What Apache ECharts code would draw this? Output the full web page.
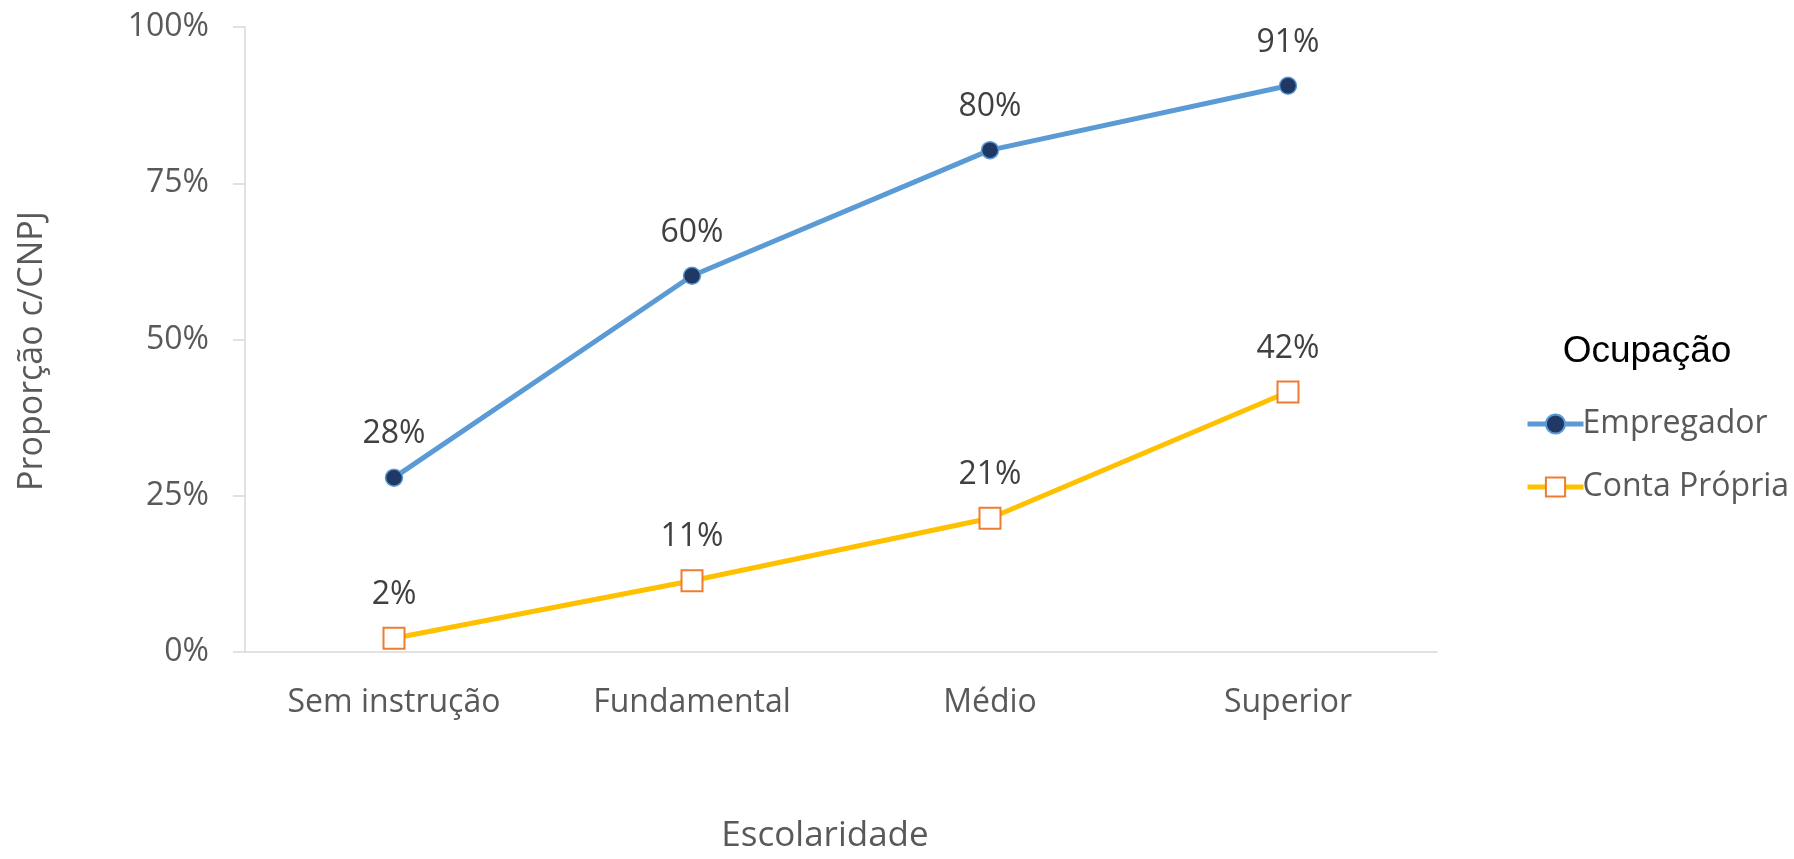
<!DOCTYPE html>
<html>
<head>
<meta charset="utf-8">
<script src="https://cdn.jsdelivr.net/npm/echarts@6/dist/echarts.min.js"></script>
<style>
html,body{margin:0;padding:0;background:#fff;}
#chart{width:1794px;height:859px;}
</style>
</head>
<body>
<div id="chart"></div>
<script>
const categories = ['Sem instrução', 'Fundamental', 'Médio', 'Superior'];
const empregador = [0.279, 0.602, 0.803, 0.906];
const contaPropria = [0.022, 0.114, 0.214, 0.416];
const yTicks = [0, 0.25, 0.5, 0.75, 1];
const seriesNames = ['Empregador', 'Conta Própria'];
const legendTitle = 'Ocupação';
const xTitle = 'Escolaridade';
const yTitle = 'Proporção c/CNPJ';

const FONT = '"Open Sans", sans-serif';
const pct = v => Math.round(v * 100) + '%';

const chart = echarts.init(document.getElementById('chart'), null, {renderer: 'canvas'});
chart.setOption({
  backgroundColor: '#ffffff',
  animation: false,
  grid: {left: 245, right: 357, top: 27, bottom: 195, containLabel: false},
  xAxis: {
    type: 'category',
    data: categories,
    boundaryGap: true,
    axisLine: {show: true, lineStyle: {color: '#D9D9D9', width: 1.5}},
    axisTick: {show: false},
    axisLabel: {color: '#595959', fontFamily: FONT, fontSize: 32, lineHeight: 36, margin: 33},
    splitLine: {show: false},
    name: xTitle,
    nameLocation: 'middle',
    nameGap: 166,
    nameTextStyle: {color: '#595959', fontFamily: FONT, fontSize: 35, lineHeight: 36, padding: [0, 32, 0, 0]}
  },
  yAxis: {
    type: 'value',
    min: 0,
    max: 1,
    interval: 0.25,
    axisLine: {show: true, lineStyle: {color: '#D9D9D9', width: 1.5}},
    axisTick: {show: true, length: 12, lineStyle: {color: '#D9D9D9', width: 1.5}},
    splitLine: {show: false},
    axisLabel: {
      color: '#595959', fontFamily: FONT, fontSize: 32, margin: 36,
      formatter: v => yTicks.indexOf(v) >= 0 ? pct(v) : ''
    },
    name: yTitle,
    nameLocation: 'middle',
    nameRotate: 90,
    nameGap: 196,
    nameTextStyle: {color: '#595959', fontFamily: FONT, fontSize: 34, lineHeight: 34, padding: [0, 23, 0, 0]}
  },
  legend: {
    orient: 'vertical',
    left: 1520,
    top: 397,
    itemWidth: 56,
    itemHeight: 24,
    itemGap: 19,
    data: seriesNames,
    lineStyle: {width: 5},
    textStyle: {color: '#595959', fontFamily: FONT, fontSize: 32, lineHeight: 44, padding: [0, 0, 0, -6]}
  },
  graphic: [{
    type: 'text',
    x: 1647,
    y: 352,
    style: {text: legendTitle, fill: '#000000', font: '37px "Liberation Sans", Arial, sans-serif', textAlign: 'center', textVerticalAlign: 'middle'}
  }],
  series: [
    {
      name: seriesNames[0],
      type: 'line',
      data: empregador,
      symbol: 'circle',
      symbolSize: 17,
      lineStyle: {color: '#5B9BD5', width: 5},
      itemStyle: {color: '#1F3864', borderColor: '#5B9BD5', borderWidth: 1.5},
      label: {show: true, position: 'top', distance: 16, color: '#404040', fontFamily: FONT, fontSize: 32, lineHeight: 36, formatter: p => pct(p.value)},
      z: 3
    },
    {
      name: seriesNames[1],
      type: 'line',
      data: contaPropria,
      symbol: 'rect',
      symbolSize: 21,
      lineStyle: {color: '#FFC000', width: 5},
      itemStyle: {color: '#FFFFFF', borderColor: '#ED7D31', borderWidth: 2},
      label: {show: true, position: 'top', distance: 14, color: '#404040', fontFamily: FONT, fontSize: 32, lineHeight: 36, formatter: p => pct(p.value)},
      z: 2
    }
  ]
});
</script>
</body>
</html>
